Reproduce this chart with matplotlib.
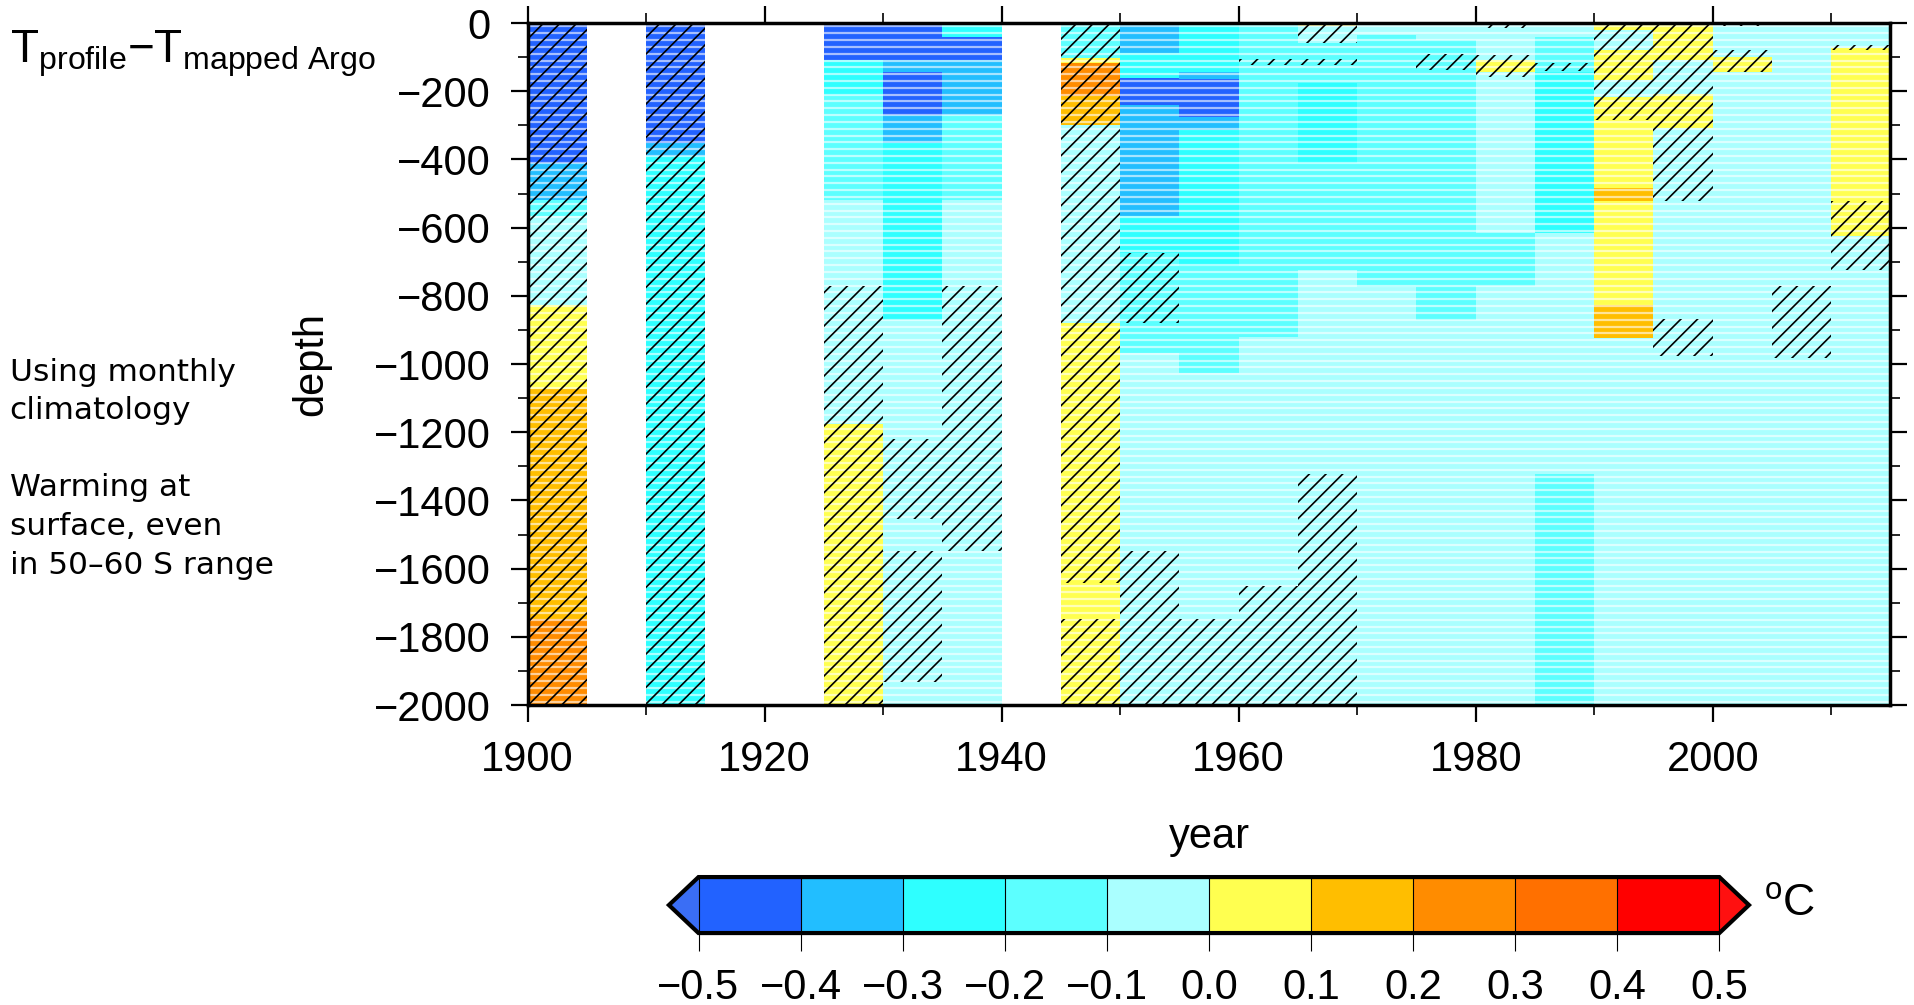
import numpy as np
import matplotlib
matplotlib.use("Agg")
import matplotlib.pyplot as plt
import matplotlib.cm as cm
from matplotlib.colors import ListedColormap, BoundaryNorm

plt.rcParams["font.family"] = ["Liberation Sans", "DejaVu Sans"]
plt.rcParams["mathtext.fontset"] = "custom"
plt.rcParams["mathtext.rm"] = "Liberation Sans"
plt.rcParams["mathtext.it"] = "Liberation Sans:italic"
plt.rcParams["hatch.linewidth"] = 1.2

# ---------------------------------------------------------------------------
# data: 5-year bins, depth runs (m) with the binned anomaly (degC)
# ---------------------------------------------------------------------------
LEVELS = [-0.5, -0.4, -0.3, -0.2, -0.1, 0.0, 0.1, 0.2, 0.3, 0.4, 0.5]
COLORS = ["#2262FF", "#22BEFF", "#2EFFFF", "#5CFFFF", "#AAFFFF",
          "#FFFF50", "#FFBE00", "#FF8C00", "#FF7000", "#FF0000"]

YEARS = [1900, 1910, 1925, 1930, 1935, 1945, 1950, 1955, 1960, 1965,
         1970, 1975, 1980, 1985, 1990, 1995, 2000, 2005, 2010]

BREAKS = [
    [0, 410, 518, 567, 826, 1074, 1748, 2000],
    [0, 352, 391, 2000],
    [0, 108, 211, 518, 1177, 2000],
    [0, 108, 143, 270, 353, 870, 2000],
    [0, 40, 108, 270, 518, 2000],
    [0, 104, 118, 215, 300, 880, 2000],
    [0, 89, 160, 240, 567, 674, 967, 2000],
    [0, 143, 165, 275, 313, 714, 1025, 2000],
    [0, 920, 2000],
    [0, 10, 60, 177, 411, 723, 2000],
    [0, 35, 773, 2000],
    [0, 50, 870, 2000],
    [0, 108, 143, 616, 772, 2000],
    [0, 40, 143, 616, 1323, 2000],
    [0, 20, 80, 166, 216, 484, 523, 826, 924, 2000],
    [0, 108, 208, 308, 2000],
    [0, 100, 143, 2000],
    [0, 2000],
    [0, 74, 625, 2000],
]

ANOMALY = [
    [-0.45, -0.35, -0.15, -0.05, 0.05, 0.15, 0.25],
    [-0.45, -0.35, -0.25],
    [-0.45, -0.25, -0.15, -0.05, 0.05],
    [-0.45, -0.35, -0.45, -0.35, -0.25, -0.05],
    [-0.25, -0.45, -0.35, -0.15, -0.05],
    [-0.15, 0.05, 0.25, 0.15, -0.05, 0.05],
    [-0.35, -0.25, -0.45, -0.35, -0.25, -0.15, -0.05],
    [-0.25, -0.35, -0.45, -0.35, -0.25, -0.15, -0.05],
    [-0.15, -0.05],
    [0.05, -0.05, -0.15, -0.25, -0.15, -0.05],
    [-0.05, -0.15, -0.05],
    [-0.05, -0.15, -0.05],
    [-0.05, 0.05, -0.05, -0.15, -0.05],
    [-0.05, -0.15, -0.25, -0.05, -0.15],
    [0.05, -0.05, 0.05, -0.05, 0.05, 0.15, 0.05, 0.15, -0.05],
    [0.05, -0.05, 0.05, -0.05],
    [-0.05, 0.05, -0.05],
    [-0.05],
    [-0.05, 0.05, -0.05],
]

# depth ranges (top, bottom) where the difference is not significant
HATCHED = [
    [(0, 2000)],
    [(0, 2000)],
    [(772, 2000)],
    [(1221, 1455), (1548, 1933)],
    [(772, 1548)],
    [(0, 1641), (1748, 2000)],
    [(674, 879), (1548, 2000)],
    [(1748, 2000)],
    [(105, 122), (1650, 2000)],
    [(0, 60), (105, 122), (1323, 2000)],
    [],
    [(90, 138)],
    [(0, 15), (94, 157)],
    [(118, 140)],
    [(0, 284)],
    [(0, 523), (869, 977)],
    [(0, 10), (80, 143)],
    [(772, 982)],
    [(64, 79), (523, 723)],
]

BIN = 5
ROW = 20  # vertical resolution of the profiles (m)

cmap = ListedColormap(COLORS)
cmap.set_under("#3A6EF5")
cmap.set_over("#FF1010")
norm = BoundaryNorm(LEVELS, cmap.N)

fig = plt.figure(figsize=(19.15, 10.05), dpi=100)
ax = fig.add_axes([0.2755, 0.2985, 0.7117, 0.6786])

for year, edges, vals, hatched in zip(YEARS, BREAKS, ANOMALY, HATCHED):
    for top, bot, v in zip(edges[:-1], edges[1:], vals):
        ax.bar(year, -(bot - top), bottom=-top, width=BIN, align="edge",
               color=cmap(norm(v)), linewidth=0, antialiased=False, zorder=1)
    for top, bot in hatched:
        ax.bar(year, -(bot - top), bottom=-top, width=BIN, align="edge",
               fill=False, hatch="//", edgecolor="black", linewidth=0, zorder=3)

# light stripes between the 20 m rows
ax.hlines(np.arange(-ROW / 2, -2000, -ROW), 1900, 2015, colors="white",
          linewidth=1.6, alpha=0.6, zorder=2)

ax.set_xlim(1900, 2015)
ax.set_ylim(-2000, 0)
ax.set_xticks(range(1900, 2001, 20))
ax.set_xticks(range(1910, 2015, 20), minor=True)
ax.set_yticks(range(-2000, 1, 200))
ax.set_yticks(range(-1900, 0, 200), minor=True)
ax.set_yticklabels([f"{v}".replace("-", "\u2212") for v in range(-2000, 1, 200)])
ax.tick_params(which="both", direction="out", top=True, right=True,
               labelsize=30)
ax.tick_params(which="major", length=12.5, width=1.6)
ax.tick_params(which="minor", length=7, width=1.2)
ax.tick_params(axis="x", which="major", pad=13)
ax.tick_params(axis="y", which="major", pad=14)
for sp in ax.spines.values():
    sp.set_linewidth(2.5)
    sp.set_zorder(5)

ax.set_xlabel("year", fontsize=30)
ax.xaxis.set_label_coords(0.5, -0.193)
ax.xaxis.label.set_va("center")
ax.set_ylabel("depth", fontsize=30)
ax.yaxis.set_label_coords(-0.159, 0.5)
ax.yaxis.label.set_va("center")

fig.text(0.005, 0.972, r"T$_\mathrm{profile}$" + "\u2212" + r"T$_\mathrm{mapped\ Argo}$",
         fontsize=33, va="top", ha="left")
fig.text(0.005, 0.644, "Using monthly\nclimatology", fontsize=22.5,
         family="DejaVu Sans", va="top", ha="left", linespacing=1.42)
fig.text(0.005, 0.529, "Warming at\nsurface, even\nin 50\u201360 S range",
         fontsize=22.5, family="DejaVu Sans", va="top", ha="left",
         linespacing=1.42)

# colorbar
cax = fig.add_axes([0.3493, 0.0716, 0.564, 0.0557])
sm = cm.ScalarMappable(norm=norm, cmap=cmap)
cb = fig.colorbar(sm, cax=cax, orientation="horizontal", extend="both",
                  extendfrac=0.029, drawedges=True, ticks=LEVELS)
cb.outline.set_linewidth(3)
cb.dividers.set_linewidth(0.8)
cb.dividers.set_color("black")
cax.tick_params(length=13, width=0.8, direction="out", pad=12)
cax.set_xticklabels([f"{v:.1f}".replace("-", "\u2212") for v in LEVELS],
                    fontsize=30)
fig.text(0.921, 0.1005, r"$^\mathrm{o}$C", fontsize=32, va="center", ha="left")

fig.savefig("out.png", dpi=100)
